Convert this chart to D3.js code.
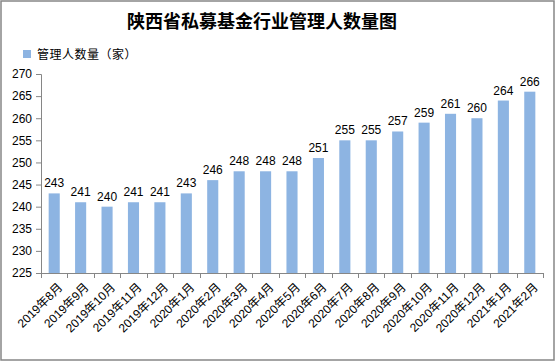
<!DOCTYPE html>
<html>
<head>
<meta charset="utf-8">
<script src="https://cdn.jsdelivr.net/npm/d3@7"></script>
<style>
	body { margin: 0; background: #fff; }
	text { font-family: "Liberation Sans", "Noto Sans CJK SC", sans-serif; }
</style>
</head>
<body>
<div id="chart"></div>
<script>
const months = ["2019年8月", "2019年9月", "2019年10月", "2019年11月", "2019年12月",
	"2020年1月", "2020年2月", "2020年3月", "2020年4月", "2020年5月", "2020年6月",
	"2020年7月", "2020年8月", "2020年9月", "2020年10月", "2020年11月", "2020年12月",
	"2021年1月", "2021年2月"];
const managers = [243, 241, 240, 241, 241, 243, 246, 248, 248, 248, 251, 255, 255, 257, 259, 261, 260, 264, 266];
const yTicks = [225, 230, 235, 240, 245, 250, 255, 260, 265, 270];
const seriesName = "管理人数量（家）";
const title = "陕西省私募基金行业管理人数量图";

const width = 556, height = 362;
const plotLeft = 41, plotRight = 543, plotTop = 74, plotBottom = 273;
const barColor = "#8db4e2";
const axisColor = "#868686";

const svg = d3.select("#chart").append("svg")
	.attr("width", width)
	.attr("height", height);

svg.append("rect")
	.attr("x", 1).attr("y", 1)
	.attr("width", width - 3).attr("height", 359)
	.attr("fill", "#fff")
	.attr("stroke", axisColor)
	.attr("stroke-width", 1.5);

svg.append("text")
	.attr("x", 262).attr("y", 28)
	.attr("text-anchor", "middle")
	.style("font-family", "'Noto Sans CJK SC', sans-serif")
	.style("font-size", "18px")
	.style("font-weight", "bold")
	.text(title);

// legend
svg.append("rect")
	.attr("x", 23).attr("y", 50)
	.attr("width", 8).attr("height", 8)
	.attr("fill", barColor);
svg.append("text")
	.attr("x", 37).attr("y", 58.5)
	.style("font-size", "12px")
	.style("letter-spacing", "0.5px")
	.text(seriesName);

const x = d3.scaleBand()
	.domain(months)
	.range([plotLeft, plotRight])
	.paddingInner(0.58)
	.paddingOuter(0.29);

const y = d3.scaleLinear()
	.domain([225, 270])
	.range([plotBottom, plotTop]);

// y axis
const yAxis = svg.append("g")
	.attr("transform", `translate(${plotLeft},0)`)
	.call(d3.axisLeft(y).tickValues(yTicks).tickSize(5).tickPadding(4));
yAxis.select(".domain").attr("stroke", axisColor);
yAxis.selectAll(".tick line").attr("stroke", axisColor);
yAxis.selectAll(".tick text")
	.style("font-size", "12px")
	.style("font-family", "'Liberation Sans', sans-serif")
	.attr("fill", "#000");

// bars
svg.selectAll("rect.bar")
	.data(managers)
	.join("rect")
	.attr("class", "bar")
	.attr("x", (d, i) => x(months[i]))
	.attr("y", d => y(d))
	.attr("width", x.bandwidth())
	.attr("height", d => plotBottom - y(d))
	.attr("fill", barColor);

svg.selectAll("text.val")
	.data(managers)
	.join("text")
	.attr("class", "val")
	.attr("x", (d, i) => x(months[i]) + x.bandwidth() / 2)
	.attr("y", d => y(d) - 6)
	.attr("text-anchor", "middle")
	.style("font-size", "12px")
	.text(d => d);

// x axis with ticks at category boundaries
const step = (plotRight - plotLeft) / months.length;
const xg = svg.append("g");
xg.append("line")
	.attr("x1", plotLeft).attr("x2", plotRight)
	.attr("y1", plotBottom + 0.5).attr("y2", plotBottom + 0.5)
	.attr("stroke", axisColor);
xg.selectAll("line.tk")
	.data(d3.range(months.length + 1))
	.join("line")
	.attr("class", "tk")
	.attr("x1", i => Math.round(plotLeft + i * step) + 0.5)
	.attr("x2", i => Math.round(plotLeft + i * step) + 0.5)
	.attr("y1", plotBottom)
	.attr("y2", plotBottom + 5)
	.attr("stroke", axisColor);

xg.selectAll("text.lbl")
	.data(months)
	.join("text")
	.attr("class", "lbl")
	.attr("transform", d => `translate(${x(d) + x.bandwidth() / 2 + 6},${plotBottom + 12}) rotate(-45)`)
	.attr("text-anchor", "end")
	.attr("dy", "0.35em")
	.style("font-size", "12px")
	.attr("fill", "#000")
	.text(d => d);
</script>
</body>
</html>
